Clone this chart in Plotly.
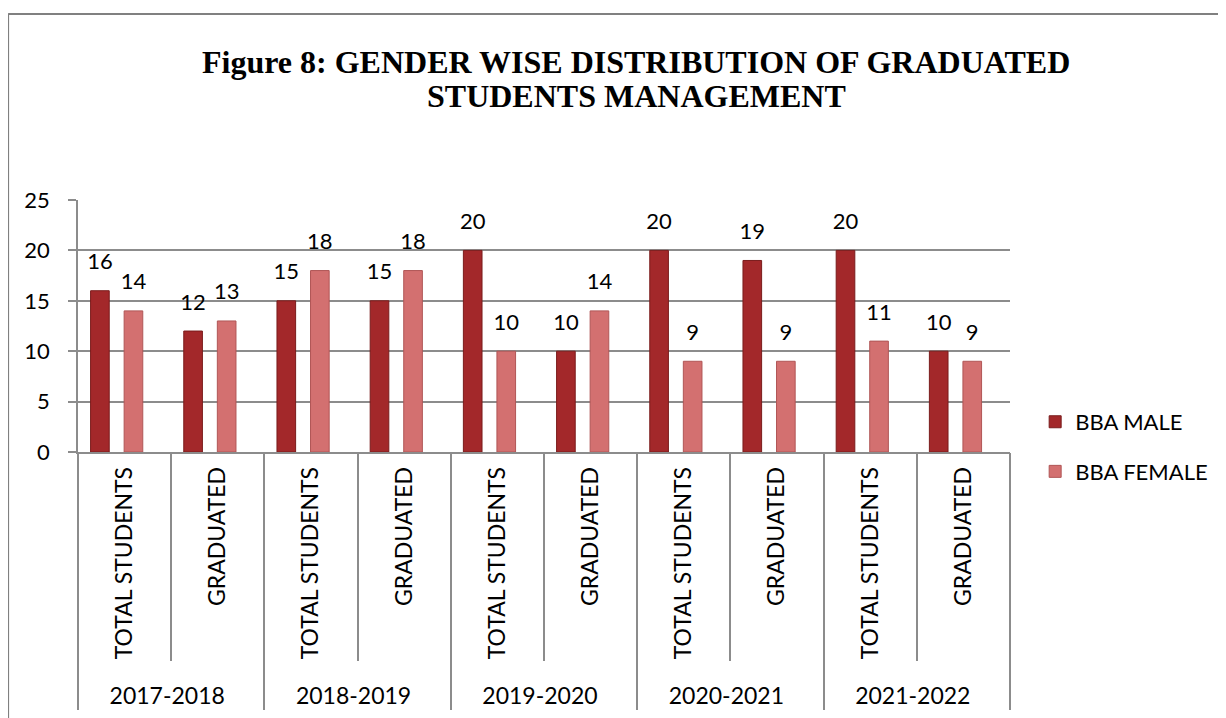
import plotly.graph_objects as go

# data
years = ["2017-2018", "2018-2019", "2019-2020", "2020-2021", "2021-2022"]
kinds = ["TOTAL STUDENTS", "GRADUATED"]
bba_male = [16, 12, 15, 15, 20, 10, 20, 19, 20, 10]
bba_female = [14, 13, 18, 18, 10, 14, 9, 9, 11, 9]

# build the two-level category axis
outer = []
inner = []
for y in years:
    for k in kinds:
        outer.append(y)
        inner.append("\u00a0" + k)  # small pad below the rotated label
flat = [o + " " + k for o in years for k in kinds]

label_font = dict(family="Lato", size=22, color="black")
grey = "#8c8c8c"
bar_w = 0.2
male_off = -0.365
female_off = -0.005

fig = go.Figure()
fig.add_trace(go.Bar(
    x=[outer, inner], y=bba_male, name="BBA MALE", legendgroup="m",
    marker=dict(color="#A3282A", line=dict(color="#7a1c1c", width=1)),
    width=bar_w, offset=male_off,
))
fig.add_trace(go.Bar(
    x=[outer, inner], y=bba_female, name="BBA FEMALE", legendgroup="f",
    marker=dict(color="#D37070", line=dict(color="#b05656", width=1)),
    width=bar_w, offset=female_off,
))
# helper trace only used to draw the inner category boundaries
fig.add_trace(go.Scatter(
    x=flat, y=bba_male, xaxis="x2", mode="markers",
    marker=dict(opacity=0), showlegend=False, hoverinfo="skip",
))
# value labels, on axes shifted to the bar centres
fig.add_trace(go.Scatter(
    x=flat, y=bba_male, xaxis="x3", mode="markers+text",
    text=bba_male, textposition="top center", textfont=label_font,
    marker=dict(size=24, opacity=0), showlegend=False, hoverinfo="skip",
    cliponaxis=False,
))
fig.add_trace(go.Scatter(
    x=flat, y=bba_female, xaxis="x4", mode="markers+text",
    text=bba_female, textposition="top center", textfont=label_font,
    marker=dict(size=24, opacity=0), showlegend=False, hoverinfo="skip",
    cliponaxis=False,
))

hidden_cat = dict(type="category", overlaying="x", anchor="y", side="bottom",
                  categoryorder="array", categoryarray=flat,
                  showticklabels=False, showgrid=False, showline=False,
                  ticks="", zeroline=False)
m_c = male_off + bar_w / 2
f_c = female_off + bar_w / 2

fig.update_layout(
    width=1218, height=710,
    paper_bgcolor="white", plot_bgcolor="white",
    margin=dict(l=70, r=216, t=192, b=266),
    barmode="overlay",
    font=dict(family="Lato", size=22, color="black"),
    annotations=[
        dict(text="<b>Figure 8: GENDER WISE DISTRIBUTION OF GRADUATED</b>",
             xref="paper", yref="paper", x=0.599, y=1.548,
             xanchor="center", yanchor="middle", showarrow=False,
             font=dict(family="Liberation Serif", size=32, color="black")),
        dict(text="<b>STUDENTS MANAGEMENT</b>",
             xref="paper", yref="paper", x=0.599, y=1.413,
             xanchor="center", yanchor="middle", showarrow=False,
             font=dict(family="Liberation Serif", size=32, color="black")),
    ],
    legend=dict(
        x=1.027, xanchor="left", y=0.02, yanchor="middle",
        font=dict(family="Lato", size=22), tracegroupgap=18,
        traceorder="grouped",
    ),
    yaxis=dict(
        range=[0, 25], dtick=5, showgrid=True, gridcolor=grey, gridwidth=1.5,
        showline=True, linecolor=grey, linewidth=1.5,
        ticks="outside", ticklen=8, tickcolor=grey, tickwidth=1.5,
        ticklabelstandoff=14, zeroline=False, automargin=False,
    ),
    xaxis=dict(
        type="multicategory", showline=True, linecolor=grey, linewidth=1.5,
        showdividers=True, dividercolor=grey, dividerwidth=1.5,
        tickangle=-90, ticks="", tickfont=dict(family="Lato", size=23),
        ticklabelstandoff=4, automargin=False,
    ),
    xaxis2=dict(hidden_cat, range=[-0.5, 9.5], ticks="outside",
                tickson="boundaries", ticklen=208,
                tickcolor=grey, tickwidth=1.5),
    xaxis3=dict(hidden_cat, range=[-0.5 - m_c, 9.5 - m_c]),
    xaxis4=dict(hidden_cat, range=[-0.5 - f_c, 9.5 - f_c]),
    shapes=[
        dict(type="line", xref="paper", yref="paper", x0=-0.075, x1=1.25,
             y0=1.738, y1=1.738, line=dict(color="#808080", width=2)),
        dict(type="line", xref="paper", yref="paper", x0=-0.075, x1=-0.075,
             y0=1.738, y1=-1.1, line=dict(color="#808080", width=2)),
    ],
)

fig.write_html("out.html")
